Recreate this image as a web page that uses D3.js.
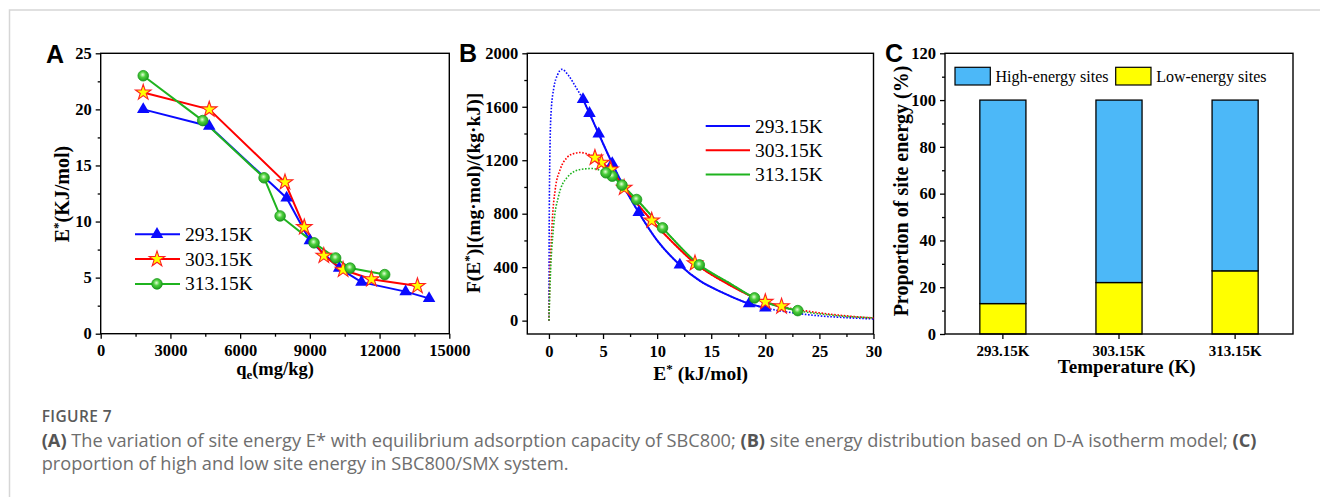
<!DOCTYPE html>
<html lang="en">
<head>
    <meta charset="UTF-8">
    <title>Figure 7</title>
    <style>
        body { margin: 0; background: #fff; }
        svg { display: block; }
        .serif { font-family: "Liberation Serif", "Times New Roman", serif; }
    </style>
</head>
<body>
<script src="https://d3js.org/d3.v7.min.js"></script>
<script>
    // ---- Panel A: site energy vs equilibrium adsorption capacity
    const temps = ["293.15K", "303.15K", "313.15K"];
    const qe293 = [1830, 4670, 8000, 9000, 10260, 11220, 13120, 14130];
    const E293  = [20.0, 18.5, 12.1, 8.3, 5.85, 4.6, 3.75, 3.15];
    const qe303 = [1830, 4670, 7930, 8760, 9600, 10430, 11650, 13630];
    const E303  = [21.5, 20.0, 13.5, 9.5, 6.95, 5.7, 4.85, 4.25];
    const qe313 = [1830, 4390, 7030, 7720, 9180, 10110, 10730, 12220];
    const E313  = [23.0, 19.0, 13.9, 10.5, 8.1, 6.75, 5.85, 5.27];

    // ---- Panel B: site energy distribution, F at the measured E values
    const F293 = [95, 127, 417, 809, 1176, 1398, 1551, 1655];
    const F303 = [107, 140, 429, 749, 994, 1131, 1181, 1219];
    const F313 = [75, 170, 417, 694, 906, 1014, 1081, 1106];
    // fitted D-A curves
    const curveE293 = [0, 0.02, 0.08, 0.2, 0.45, 0.8, 1.2, 1.8, 2.5, 3.15, 3.75, 4.6, 5.85, 7, 8.3, 10, 12.1, 14, 16, 18.5, 20, 22, 25, 28, 30];
    const curveF293 = [0, 600, 1200, 1560, 1740, 1840, 1880, 1835, 1745, 1655, 1551, 1398, 1176, 990, 809, 600, 417, 295, 212, 127, 95, 65, 36, 20, 13];
    const curveE303 = [0, 0.06, 0.28, 0.58, 1.04, 1.66, 2.3, 2.9, 3.5, 4.25, 4.85, 5.7, 6.95, 8.2, 9.5, 11.5, 13.5, 16.5, 20, 21.5, 25, 28, 30];
    const curveF303 = [0, 232, 706, 981, 1131, 1219, 1250, 1258, 1248, 1219, 1181, 1131, 994, 870, 749, 580, 429, 275, 140, 107, 58, 32, 20];
    const curveE313 = [0, 0.12, 0.43, 0.89, 1.66, 2.9, 4.0, 5.27, 5.85, 6.75, 8.1, 10.5, 13.9, 16.5, 19, 23, 26, 30];
    const curveF313 = [0, 307, 706, 931, 1069, 1131, 1138, 1106, 1081, 1014, 906, 694, 417, 290, 170, 75, 42, 20];

    // ---- Panel C: proportion of site energy
    const lowShare  = [13, 22, 27];
    const highShare = [87, 78, 73];

    const colors = ["#0a0aff", "#ff0000", "#1fb31f"];

    const svg = d3.select("body").append("svg")
        .attr("width", 1320).attr("height", 497);

    const defs = svg.append("defs");
    const grad = defs.append("radialGradient").attr("id", "ball")
        .attr("cx", "45%").attr("cy", "40%").attr("r", "60%");
    grad.append("stop").attr("offset", "0%").attr("stop-color", "#e6ffd8");
    grad.append("stop").attr("offset", "45%").attr("stop-color", "#4ccf3c");
    grad.append("stop").attr("offset", "100%").attr("stop-color", "#1f9a1f");

    // page border
    svg.append("path").attr("d", "M9.5,497 V10 H1320")
        .attr("fill", "none").attr("stroke", "#d6d6d6").attr("stroke-width", 1.5);

    function drawMarker(g, type, x, y) {
        if (type === 0) {
            g.append("path").attr("d", d3.symbol().type(d3.symbolTriangle).size(68)())
                .attr("transform", `translate(${x},${y})`).attr("fill", colors[0]);
        } else if (type === 1) {
            g.append("path").attr("d", d3.symbol().type(d3.symbolStar).size(75)())
                .attr("transform", `translate(${x},${y})`)
                .attr("fill", "#ffff00").attr("stroke", "#ff2020").attr("stroke-width", 1.1);
        } else {
            g.append("circle").attr("cx", x).attr("cy", y).attr("r", 5.3)
                .attr("fill", "url(#ball)").attr("stroke", "#1a9a1a").attr("stroke-width", 0.8);
        }
    }

    function styleAxis(g, size) {
        g.select(".domain").remove();
        g.selectAll("line").attr("stroke", "#000").attr("stroke-width", 1.3);
        g.selectAll("text").attr("class", "serif")
            .attr("font-size", size).attr("font-weight", "bold").attr("fill", "#000");
    }

    function axes(x, y, xMajor, xMinor, yMajor, yMinor) {
        const [x0, x1] = x.range();
        const [y0, y1] = y.range();
        const gx = svg.append("g").attr("transform", `translate(0,${y0})`)
            .call(d3.axisBottom(x).tickValues(xMajor).tickSize(5).tickSizeOuter(0).tickPadding(6).tickFormat(d3.format("d")));
        styleAxis(gx, 16.5);
        const gm = svg.append("g").attr("transform", `translate(0,${y0})`)
            .call(d3.axisBottom(x).tickValues(xMinor).tickSize(3).tickFormat(""));
        styleAxis(gm, 16);
        const gy = svg.append("g").attr("transform", `translate(${x0},0)`)
            .call(d3.axisLeft(y).tickValues(yMajor).tickSize(5).tickSizeOuter(0).tickPadding(4).tickFormat(d3.format("d")));
        styleAxis(gy, 16.5);
        const gym = svg.append("g").attr("transform", `translate(${x0},0)`)
            .call(d3.axisLeft(y).tickValues(yMinor).tickSize(3).tickFormat(""));
        styleAxis(gym, 16);
        svg.append("rect").attr("x", x0).attr("y", y1).attr("width", x1 - x0).attr("height", y0 - y1)
            .attr("fill", "none").attr("stroke", "#000").attr("stroke-width", 1.4);
    }

    function panelLetter(t, x, y) {
        svg.append("text").attr("x", x).attr("y", y).text(t)
            .attr("font-family", "Liberation Sans, Arial, sans-serif")
            .attr("font-weight", "bold").attr("font-size", 25);
    }

    function title(x, y, rotate, parts, size) {
        const t = svg.append("text").attr("class", "serif")
            .attr("font-size", size).attr("font-weight", "bold")
            .attr("text-anchor", "middle")
            .attr("transform", `translate(${x},${y})` + (rotate ? " rotate(-90)" : ""));
        parts.forEach(p => {
            const s = t.append("tspan").text(p.t);
            if (p.dy) s.attr("dy", p.dy);
            if (p.fs) s.attr("font-size", p.fs);
        });
    }

    // ================= Panel A =================
    const xA = d3.scaleLinear().domain([0, 15000]).range([100.7, 449.3]);
    const yA = d3.scaleLinear().domain([0, 25]).range([333.7, 53.3]);
    axes(xA, yA, d3.range(0, 15001, 3000), d3.range(1500, 15000, 3000),
        d3.range(0, 26, 5), d3.range(2.5, 25, 5));
    panelLetter("A", 46, 63);

    const seriesA = [[qe293, E293], [qe303, E303], [qe313, E313]];
    const lineA = d3.line().x(d => xA(d[0])).y(d => yA(d[1]));
    seriesA.forEach(([qs, es], i) => {
        const pts = qs.map((q, k) => [q, es[k]]);
        svg.append("path").attr("d", lineA(pts)).attr("fill", "none")
            .attr("stroke", colors[i]).attr("stroke-width", 2);
    });
    seriesA.forEach(([qs, es], i) => {
        const g = svg.append("g");
        qs.forEach((q, k) => drawMarker(g, i, xA(q), yA(es[k])));
    });

    // legend A
    temps.forEach((t, i) => {
        const ly = 234.3 + i * 24.8;
        svg.append("line").attr("x1", 135).attr("x2", 180).attr("y1", ly).attr("y2", ly)
            .attr("stroke", colors[i]).attr("stroke-width", 2);
        drawMarker(svg.append("g"), i, 157, ly);
        svg.append("text").attr("class", "serif").attr("x", 185).attr("y", ly + 6.5)
            .attr("font-size", 19.5).text(t);
    });

    title(275, 375, false, [{t: "q"}, {t: "e", dy: 4, fs: 13}, {t: "(mg/kg)", dy: -4}], 18.5);
    title(69, 194, true, [{t: "E"}, {t: "*", dy: -7, fs: 13}, {t: "(KJ/mol)", dy: 7}], 20);

    // ================= Panel B =================
    const xB = d3.scaleLinear().domain([-2, 30]).range([527.3, 873.5]);
    const yB = d3.scaleLinear().domain([-100, 2000]).range([334, 53.3]);
    axes(xB, yB, d3.range(0, 31, 5), d3.range(2.5, 30, 5),
        d3.range(0, 2001, 400), d3.range(200, 2000, 400));
    panelLetter("B", 459, 62);

    const curvesB = [[curveE293, curveF293], [curveE303, curveF303], [curveE313, curveF313]];
    const ptsB = [[E293, F293], [E303, F303], [E313, F313]];
    const lineB = d3.line().x(d => xB(d[0])).y(d => yB(d[1])).curve(d3.curveMonotoneX);
    curvesB.forEach(([es, fs], i) => {
        const pts = es.map((e, k) => [e, fs[k]]);
        svg.append("path").attr("d", lineB(pts)).attr("fill", "none")
            .attr("stroke", colors[i]).attr("stroke-width", 1.6)
            .attr("stroke-dasharray", "1.6,1.6");
    });
    curvesB.forEach(([es, fs], i) => {
        const lo = d3.min(ptsB[i][0]), hi = d3.max(ptsB[i][0]);
        const pts = es.map((e, k) => [e, fs[k]]).filter(d => d[0] >= lo - 1e-6 && d[0] <= hi + 1e-6);
        svg.append("path").attr("d", lineB(pts)).attr("fill", "none")
            .attr("stroke", colors[i]).attr("stroke-width", 2);
    });
    ptsB.forEach(([es, fs], i) => {
        const g = svg.append("g");
        es.forEach((e, k) => drawMarker(g, i, xB(e), yB(fs[k])));
    });

    // legend B
    temps.forEach((t, i) => {
        const ly = 126 + i * 24.2;
        svg.append("line").attr("x1", 705.7).attr("x2", 750).attr("y1", ly).attr("y2", ly)
            .attr("stroke", colors[i]).attr("stroke-width", 2);
        svg.append("text").attr("class", "serif").attr("x", 755).attr("y", ly + 6.5)
            .attr("font-size", 19.5).text(t);
    });

    title(700.7, 380, false, [{t: "E"}, {t: "*", dy: -7, fs: 13}, {t: " (kJ/mol)", dy: 7}], 19.5);
    title(480, 193, true, [{t: "F(E"}, {t: "*", dy: -7, fs: 13}, {t: ")[(mg·mol)/(kg·kJ)]", dy: 7}], 19.5);

    // ================= Panel C =================
    const xC = d3.scaleBand().domain(temps).range([945, 1293]).paddingInner(0.603).paddingOuter(0.3);
    const yC = d3.scaleLinear().domain([0, 120]).range([334, 53.3]);

    const stacked = d3.stack().keys(["low", "high"])(temps.map((t, i) => ({t: t, low: lowShare[i], high: highShare[i]})));
    const barColors = {low: "#ffff00", high: "#4cb8f8"};
    stacked.forEach(layer => {
        svg.append("g").selectAll("rect").data(layer).join("rect")
            .attr("x", d => xC(d.data.t))
            .attr("width", xC.bandwidth())
            .attr("y", d => yC(d[1]))
            .attr("height", d => yC(d[0]) - yC(d[1]))
            .attr("fill", barColors[layer.key])
            .attr("stroke", "#000").attr("stroke-width", 1.3);
    });

    // axes C
    const gxC = svg.append("g").attr("transform", "translate(0,334)")
        .call(d3.axisBottom(xC).tickSize(5).tickSizeOuter(0).tickPadding(6));
    styleAxis(gxC, 15);
    const gyC = svg.append("g").attr("transform", "translate(945,0)")
        .call(d3.axisLeft(yC).tickValues(d3.range(0, 121, 20)).tickSize(5).tickSizeOuter(0).tickPadding(4));
    styleAxis(gyC, 16.5);
    const gymC = svg.append("g").attr("transform", "translate(945,0)")
        .call(d3.axisLeft(yC).tickValues(d3.range(10, 120, 20)).tickSize(3).tickFormat(""));
    styleAxis(gymC, 16);
    svg.append("rect").attr("x", 945).attr("y", 53.3).attr("width", 348).attr("height", 334 - 53.3)
        .attr("fill", "none").attr("stroke", "#000").attr("stroke-width", 1.4);
    panelLetter("C", 885, 62);

    // legend C
    const legC = [["High-energy sites", "#4cb8f8", 955], ["Low-energy sites", "#ffff00", 1115.7]];
    legC.forEach(([label, col, lx]) => {
        svg.append("rect").attr("x", lx).attr("y", 67.3).attr("width", 35.3).attr("height", 17.7)
            .attr("fill", col).attr("stroke", "#000").attr("stroke-width", 1.2);
        svg.append("text").attr("class", "serif").attr("x", lx + 40.5).attr("y", 81.5)
            .attr("font-size", 16).text(label);
    });

    title(1126.7, 373, false, [{t: "Temperature (K)"}], 19);
    title(908, 191, true, [{t: "Proportion of site energy (%)"}], 20);

    // ================= Caption =================
    svg.append("text").attr("x", 41.7).attr("y", 422)
        .attr("font-family", "Open Sans, sans-serif").attr("font-weight", 600)
        .attr("font-size", 15.5).attr("fill", "#5a5a5a").attr("letter-spacing", 0.4)
        .text("FIGURE 7");

    const cap1 = svg.append("text").attr("x", 41.7).attr("y", 447)
        .attr("font-family", "Open Sans, sans-serif").attr("font-size", 16).attr("fill", "#6e6e6e");
    [["(A)", true], [" The variation of site energy E* with equilibrium adsorption capacity of SBC800; ", false],
     ["(B)", true], [" site energy distribution based on D-A isotherm model; ", false], ["(C)", true]]
        .forEach(([t, b]) => cap1.append("tspan").text(t)
            .attr("font-weight", b ? 700 : 400).attr("fill", b ? "#555" : "#6e6e6e"));
    const cap2 = svg.append("text").attr("x", 41.7).attr("y", 470)
        .attr("font-family", "Open Sans, sans-serif").attr("font-size", 16).attr("fill", "#6e6e6e")
        .text("proportion of high and low site energy in SBC800/SMX system.");
    // fit the caption to the width it takes in the figure
    const w = cap1.node().getComputedTextLength();
    const fs = 16 * 1215 / w;
    cap1.attr("font-size", fs);
    cap2.attr("font-size", fs);
</script>
</body>
</html>
